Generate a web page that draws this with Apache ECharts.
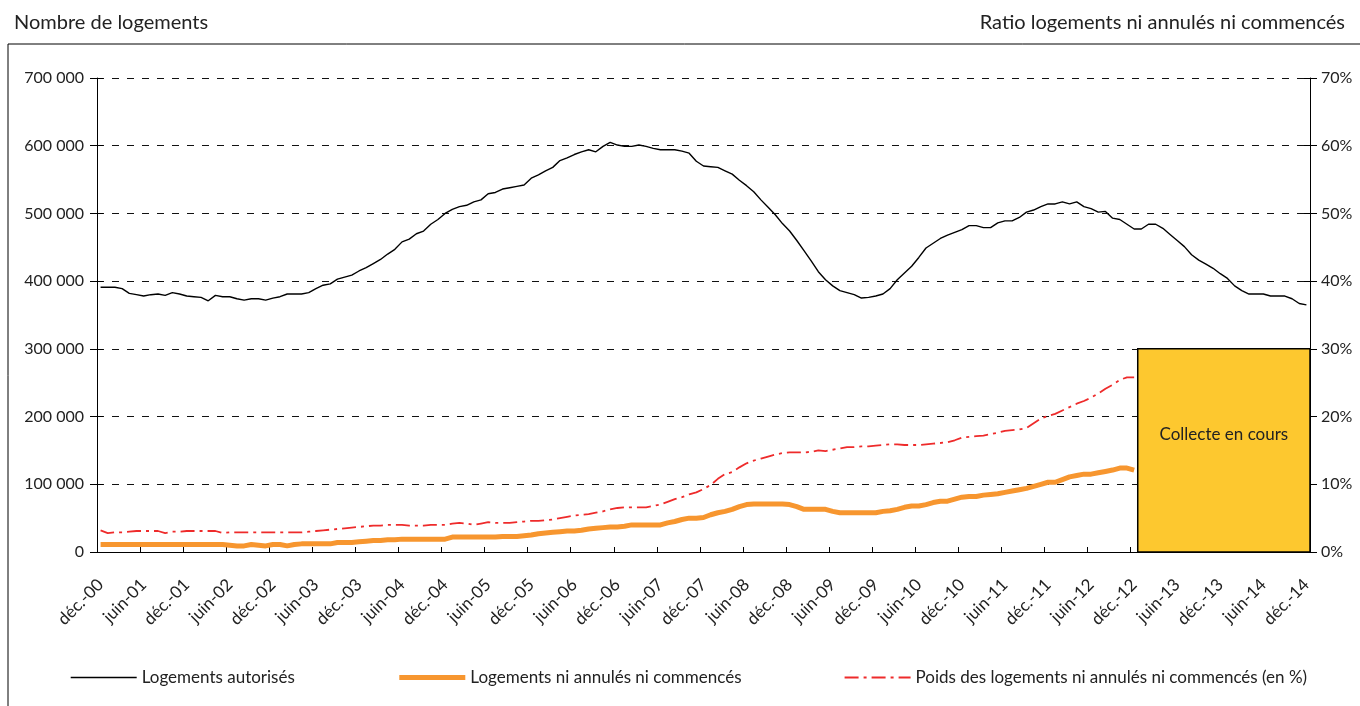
<!DOCTYPE html>
<html>
<head>
<meta charset="utf-8">
<script src="https://cdn.jsdelivr.net/npm/echarts@6/dist/echarts.min.js"></script>
<style>
html, body { margin: 0; padding: 0; background: #fff; }
#chart { width: 1360px; height: 706px; }
</style>
</head>
<body>
<div id="chart"></div>
<script>
var police = 'Lato';

// mois de déc.-00 à déc.-14
var nomsMois = ['janv.', 'févr.', 'mars', 'avr.', 'mai', 'juin', 'juil.', 'août', 'sept.', 'oct.', 'nov.', 'déc.'];
var mois = [];
for (var a = 2000; a <= 2014; a++) {
  for (var m = 0; m < 12; m++) {
    if (a === 2000 && m < 11) continue;
    mois.push(nomsMois[m] + '-' + String(a).slice(2));
  }
}

var logementsAutorises = [
  391000, 391000, 391000, 389000, 382000, 380000, 378000, 380000, 381000, 379000,
  383000, 381000, 378000, 377000, 376000, 371000, 379000, 377000, 377000, 374000,
  372000, 374000, 374000, 372000, 375000, 377000, 381000, 381000, 381000, 383000,
  389000, 394000, 396000, 403000, 406000, 409000, 415000, 420000, 426000, 432000,
  440000, 447000, 458000, 462000, 470000, 474000, 484000, 491000, 500000, 506000,
  510000, 512000, 517000, 520000, 529000, 531000, 536000, 538000, 540000, 542000,
  552000, 557000, 563000, 568000, 578000, 582000, 587000, 591000, 594000, 591000,
  599000, 605000, 601000, 599000, 599000, 601000, 599000, 596000, 594000, 594000,
  594000, 592000, 589000, 577000, 570000, 569000, 568000, 563000, 558000, 549000,
  541000, 532000, 520000, 509000, 498000, 485000, 474000, 460000, 445000, 430000,
  414000, 402000, 393000, 386000, 383000, 380000, 375000, 376000, 378000, 381000,
  389000, 402000, 412000, 422000, 435000, 449000, 456000, 463000, 468000, 472000,
  476000, 482000, 482000, 479000, 479000, 486000, 489000, 489000, 494000, 502000,
  505000, 510000, 514000, 514000, 517000, 514000, 517000, 510000, 507000, 502000,
  503000, 493000, 491000, 484000, 477000, 477000, 484000, 484000, 478000, 469000,
  460000, 451000, 439000, 431000, 425000, 419000, 411000, 404000, 393000, 386000,
  381000, 381000, 381000, 378000, 378000, 378000, 374000, 367000, 365000
];

var logementsNiAnnules = [
  11000, 11000, 11000, 11000, 11000, 11000, 11000, 11000, 11000, 11000,
  11000, 11000, 11000, 11000, 11000, 11000, 11000, 11000, 10000, 9000,
  9000, 11000, 10000, 9000, 11000, 11000, 9000, 11000, 12000, 12000,
  12000, 12000, 12000, 14000, 14000, 14000, 15000, 16000, 17000, 17000,
  18000, 18000, 19000, 19000, 19000, 19000, 19000, 19000, 19000, 22000,
  22000, 22000, 22000, 22000, 22000, 22000, 23000, 23000, 23000, 24000,
  25000, 27000, 28000, 29000, 30000, 31000, 31000, 32000, 34000, 35000,
  36000, 37000, 37000, 38000, 40000, 40000, 40000, 40000, 40000, 43000,
  45000, 48000, 50000, 50000, 51000, 55000, 58000, 60000, 63000, 67000,
  70000, 71000, 71000, 71000, 71000, 71000, 70000, 67000, 63000, 63000,
  63000, 63000, 60000, 58000, 58000, 58000, 58000, 58000, 58000, 60000,
  61000, 63000, 66000, 68000, 68000, 70000, 73000, 75000, 75000, 78000,
  81000, 82000, 82000, 84000, 85000, 86000, 88000, 90000, 92000, 94000,
  97000, 100000, 103000, 103000, 107000, 111000, 113000, 115000, 115000, 117000,
  119000, 121000, 124000, 124000, 121000
];

var poidsNiAnnules = [
  3.2, 2.8, 2.9, 2.9, 3.0, 3.1, 3.1, 3.1, 3.1, 2.8,
  3.0, 3.0, 3.1, 3.1, 3.1, 3.1, 3.1, 2.8, 2.9, 2.9,
  2.9, 2.9, 2.9, 2.9, 2.9, 2.9, 2.9, 2.9, 2.9, 3.0,
  3.1, 3.2, 3.3, 3.4, 3.5, 3.6, 3.7, 3.8, 3.9, 3.9,
  4.0, 4.0, 4.0, 3.9, 3.9, 3.9, 4.0, 4.0, 4.0, 4.2,
  4.3, 4.2, 4.0, 4.2, 4.4, 4.3, 4.3, 4.3, 4.4, 4.5,
  4.6, 4.6, 4.7, 4.8, 5.0, 5.2, 5.4, 5.5, 5.6, 5.8,
  6.0, 6.3, 6.5, 6.6, 6.6, 6.6, 6.6, 6.8, 7.0, 7.4,
  7.8, 8.1, 8.5, 8.8, 9.3, 9.9, 10.8, 11.5, 11.8, 12.5,
  13.1, 13.5, 13.8, 14.1, 14.4, 14.6, 14.7, 14.7, 14.7, 14.8,
  15.0, 14.9, 15.1, 15.3, 15.5, 15.5, 15.6, 15.6, 15.7, 15.8,
  15.9, 15.9, 15.8, 15.8, 15.8, 15.9, 16.0, 16.1, 16.2, 16.5,
  16.9, 17.0, 17.1, 17.2, 17.4, 17.6, 17.9, 18.0, 18.1, 18.3,
  19.0, 19.7, 20.1, 20.4, 20.9, 21.4, 21.9, 22.3, 22.8, 23.4,
  24.1, 24.7, 25.4, 25.8, 25.8
];

// période encore en collecte (encadré jaune)
var debutCollecte = mois.indexOf('janv.-13');
var hautCollecte = 300000;

var chart = echarts.init(document.getElementById('chart'));

function formatMilliers(v) {
  return v === 0 ? '0' : (v / 1000) + ' 000';
}

var option = {
  backgroundColor: '#fff',
  animation: false,
  textStyle: { fontFamily: police },
  title: [
    { text: 'Nombre de logements', left: 9, top: 8,
      textStyle: { fontFamily: police, fontSize: 20, fontWeight: 'normal', color: '#222' } },
    { text: 'Ratio logements ni annulés ni commencés', right: 10, top: 8,
      textStyle: { fontFamily: police, fontSize: 20, fontWeight: 'normal', color: '#222' } }
  ],
  graphic: [{
    type: 'rect', z: -10, silent: true,
    shape: { x: 8, y: 44, width: 1400, height: 700 },
    style: { fill: 'none', stroke: '#000', lineWidth: 1 }
  }],
  legend: {
    left: 65, top: 664,
    itemWidth: 66, itemHeight: 14, itemGap: 102,
    itemStyle: { opacity: 0 },
    textStyle: { fontFamily: police, fontSize: 17, color: '#222' },
    data: [
      { name: 'Logements autorisés', lineStyle: { width: 1.4 } },
      { name: 'Logements ni annulés ni commencés', lineStyle: { width: 5 } },
      { name: 'Poids des logements ni annulés ni commencés (en %)', lineStyle: { width: 2 } }
    ]
  },
  grid: { left: 97, right: 50, top: 78, bottom: 154 },
  xAxis: [{
    type: 'category',
    data: mois,
    boundaryGap: true,
    position: 'bottom',
    axisLine: { lineStyle: { color: '#000', width: 1 } },
    axisTick: { interval: 5, length: 6, lineStyle: { color: '#000' } },
    axisLabel: { interval: 5, rotate: 45, margin: 30, fontFamily: police, fontSize: 17, color: '#222' },
    splitLine: { show: false }
  }, {
    type: 'value',
    min: 0, max: mois.length, interval: 6,
    position: 'bottom',
    axisLine: { show: false },
    axisTick: { show: true, inside: true, length: 5, lineStyle: { color: '#000' } },
    axisLabel: { show: false },
    splitLine: { show: false }
  }],
  yAxis: [{
    type: 'value',
    position: 'left',
    min: 0, max: 700000, interval: 100000,
    axisLine: { show: true, lineStyle: { color: '#000', width: 1 } },
    axisTick: { show: true, length: 7, lineStyle: { color: '#000' } },
    axisLabel: { margin: 13, fontFamily: police, fontSize: 16, color: '#222', formatter: formatMilliers },
    splitLine: { show: true, lineStyle: { color: '#111', type: [7, 8], width: 1 } }
  }, {
    type: 'value',
    position: 'right',
    min: 0, max: 70, interval: 10,
    axisLine: { show: true, lineStyle: { color: '#000', width: 1 } },
    axisTick: { show: true, length: 7, lineStyle: { color: '#000' } },
    axisLabel: { margin: 11, fontFamily: police, fontSize: 16, color: '#222', formatter: '{value}%' },
    splitLine: { show: false }
  }, {
    type: 'value', position: 'left', min: 0, max: 700000, interval: 100000,
    axisLine: { show: false },
    axisTick: { show: true, inside: true, length: 6, lineStyle: { color: '#000' } },
    axisLabel: { show: false }, splitLine: { show: false }
  }, {
    type: 'value', position: 'right', min: 0, max: 70, interval: 10,
    axisLine: { show: false },
    axisTick: { show: true, inside: true, length: 6, lineStyle: { color: '#000' } },
    axisLabel: { show: false }, splitLine: { show: false }
  }],
  series: [{
    name: 'Logements autorisés',
    type: 'line',
    data: logementsAutorises,
    symbol: 'none',
    z: 4,
    lineStyle: { color: '#000', width: 1.4 },
    itemStyle: { color: '#000' }
  }, {
    name: 'Logements ni annulés ni commencés',
    type: 'line',
    data: logementsNiAnnules,
    symbol: 'none',
    z: 3,
    lineStyle: { color: '#F7962F', width: 5 },
    itemStyle: { color: '#F7962F' }
  }, {
    name: 'Poids des logements ni annulés ni commencés (en %)',
    type: 'line',
    yAxisIndex: 1,
    data: poidsNiAnnules,
    symbol: 'none',
    z: 3,
    lineStyle: { color: '#EE2B2B', width: 1.8, type: [14, 5, 3, 5] },
    itemStyle: { color: '#EE2B2B' }
  }, {
    type: 'line',
    xAxisIndex: 1,
    yAxisIndex: 0,
    data: [],
    z: 6,
    markArea: {
      silent: true,
      z: 6,
      itemStyle: { color: '#FDC82F', borderColor: '#000', borderWidth: 1.5, opacity: 1 },
      label: { show: true, position: 'inside', offset: [0, -16], fontFamily: police, fontSize: 17, color: '#222' },
      data: [[
        { name: 'Collecte en cours', xAxis: debutCollecte, yAxis: 0 },
        { xAxis: mois.length, yAxis: hautCollecte }
      ]]
    }
  }]
};

chart.setOption(option);
</script>
</body>
</html>
